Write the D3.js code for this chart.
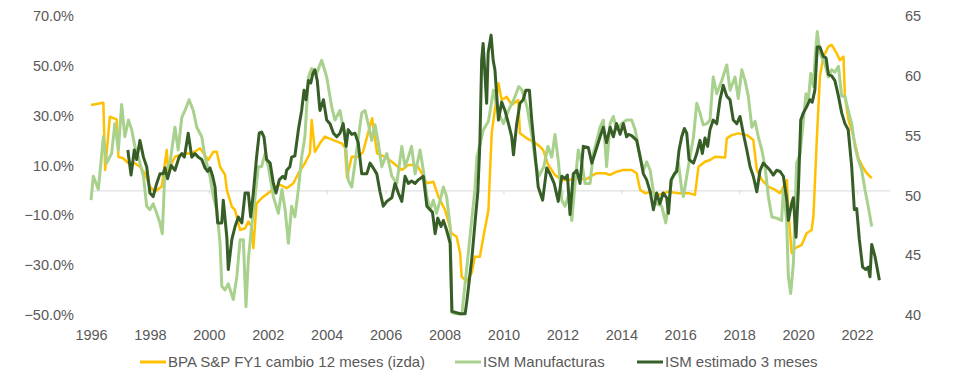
<!DOCTYPE html>
<html lang="es">
<head>
<meta charset="UTF-8">
<title>BPA S&amp;P vs ISM</title>
<script src="https://d3js.org/d3.v7.min.js"></script>
<style>
  body { margin: 0; background: #fff; }
  svg { display: block; font-family: "Liberation Sans", Arial, sans-serif; }
  .tick text { fill: #595959; font-size: 14.5px; }
</style>
</head>
<body>
<svg id="chart"></svg>
<script>
// [year, % change 12m] - left axis
const bpa = [
  [1996.00,34.3],[1996.42,35.2],[1996.48,8.2],[1996.64,29.6],[1996.87,28.5],[1996.93,13.5],
  [1997.10,12.8],[1997.27,10.9],[1997.49,10.9],[1997.66,9.5],[1997.83,6.9],[1998.00,1.5],
  [1998.17,-0.5],[1998.40,1.6],[1998.57,16.2],[1998.62,8.1],[1998.85,13.5],[1999.19,14.8],
  [1999.42,14.8],[1999.70,16.9],[1999.98,12.2],[2000.15,15.5],[2000.27,15.5],[2000.38,9.5],
  [2000.55,6.2],[2000.61,0.2],[2000.78,-6.5],[2000.89,-7.9],[2001.06,-15.9],[2001.23,-15.2],
  [2001.34,-12.5],[2001.45,-14.5],[2001.51,-23.2],[2001.62,-5.2],[2001.85,-2.5],[2002.08,-0.5],
  [2002.25,1.5],[2002.42,2.2],[2002.64,0.9],[2002.87,2.9],[2003.04,6.9],[2003.26,10.9],
  [2003.43,14.9],[2003.49,28.3],[2003.60,15.5],[2003.77,18.9],[2003.94,21.6],[2004.22,20.2],
  [2004.51,18.9],[2004.62,17.2],[2004.69,5.2],[2004.85,13.5],[2005.07,13.5],[2005.23,15.3],
  [2005.54,29.0],[2005.71,14.9],[2005.98,13.5],[2006.21,11.5],[2006.55,8.2],[2006.77,10.2],
  [2007.06,10.2],[2007.23,6.9],[2007.40,2.9],[2007.62,3.5],[2007.79,-2.5],[2008.02,-7.9],
  [2008.24,-17.2],[2008.41,-18.6],[2008.53,-25.2],[2008.58,-34.6],[2008.75,-36.6],[2008.92,-33.2],
  [2009.03,-26.6],[2009.20,-26.6],[2009.32,-18.6],[2009.49,-7.9],[2009.60,22.9],[2009.83,43.0],
  [2009.94,36.3],[2010.11,37.6],[2010.28,34.3],[2010.50,36.3],[2010.56,22.9],[2010.79,20.9],
  [2011.01,19.6],[2011.24,17.6],[2011.35,16.2],[2011.52,10.2],[2011.75,6.2],[2011.98,4.2],
  [2012.26,4.2],[2012.49,5.5],[2012.77,4.2],[2012.94,5.5],[2013.17,6.9],[2013.45,6.9],
  [2013.62,6.2],[2013.84,7.5],[2014.07,8.2],[2014.35,8.2],[2014.52,6.9],[2014.64,0.2],
  [2014.81,-1.1],[2015.03,-0.5],[2015.26,-1.8],[2015.60,-0.5],[2015.94,-1.1],[2016.28,-1.1],
  [2016.50,-1.8],[2016.62,9.5],[2016.84,11.5],[2017.01,12.2],[2017.18,13.5],[2017.52,13.2],
  [2017.58,20.9],[2017.75,22.2],[2017.97,22.9],[2018.26,22.2],[2018.48,20.2],[2018.60,8.2],
  [2018.77,4.2],[2018.99,1.5],[2019.22,0.2],[2019.39,-1.1],[2019.62,4.2],[2019.67,-7.9],
  [2019.78,-25.2],[2019.90,-23.2],[2020.12,-21.9],[2020.29,-17.2],[2020.46,-15.9],[2020.52,-10.5],
  [2020.63,18.9],[2020.74,45.6],[2020.86,53.7],[2021.03,57.7],[2021.14,58.4],[2021.31,55.0],
  [2021.42,52.3],[2021.54,53.7],[2021.59,37.6],[2021.71,28.3],[2021.88,21.6],[2022.05,12.9],
  [2022.22,8.9],[2022.33,6.9],[2022.50,4.9]
];

// [year, index] - right axis
const ismManuf = [
  [1996.00,49.6],[1996.08,51.6],[1996.25,50.5],[1996.42,54.9],[1996.53,52.7],[1996.70,53.5],
  [1996.81,56.0],[1996.93,53.8],[1997.04,57.6],[1997.15,54.9],[1997.27,56.3],[1997.38,55.5],
  [1997.49,54.1],[1997.61,53.2],[1997.78,51.6],[1997.89,49.1],[1998.00,48.8],[1998.11,49.3],
  [1998.23,48.5],[1998.34,47.7],[1998.42,46.8],[1998.51,52.1],[1998.68,52.7],[1998.85,55.7],
  [1998.96,53.8],[1999.08,56.5],[1999.19,57.1],[1999.33,58.0],[1999.47,57.1],[1999.59,55.7],
  [1999.76,54.9],[1999.87,53.2],[2000.04,51.6],[2000.15,49.9],[2000.27,48.8],[2000.38,46.0],
  [2000.44,42.4],[2000.55,42.1],[2000.66,42.6],[2000.83,41.3],[2000.95,43.2],[2001.06,46.3],
  [2001.17,46.3],[2001.26,40.7],[2001.34,44.6],[2001.45,47.4],[2001.57,49.9],[2001.68,52.4],
  [2001.79,52.4],[2001.91,53.5],[2002.02,52.4],[2002.19,49.9],[2002.36,48.5],[2002.48,50.5],
  [2002.59,48.8],[2002.70,46.0],[2002.81,49.1],[2002.92,48.2],[2003.04,50.5],[2003.15,53.2],
  [2003.26,54.9],[2003.38,59.9],[2003.49,60.6],[2003.66,60.2],[2003.83,61.3],[2004.00,59.9],
  [2004.17,57.4],[2004.28,56.3],[2004.45,57.1],[2004.62,54.9],[2004.73,51.3],[2004.85,50.7],
  [2004.96,52.7],[2005.19,56.9],[2005.30,57.1],[2005.41,56.0],[2005.53,54.6],[2005.64,55.9],
  [2005.75,54.4],[2005.87,52.4],[2006.04,53.5],[2006.21,51.6],[2006.38,51.0],[2006.55,54.1],
  [2006.66,52.4],[2006.77,53.2],[2006.88,54.1],[2007.00,51.8],[2007.17,53.8],[2007.28,52.1],
  [2007.40,49.9],[2007.51,48.8],[2007.62,49.6],[2007.73,48.5],[2007.85,49.6],[2007.96,50.7],
  [2008.07,49.9],[2008.19,47.4],[2008.25,40.2],[2008.39,40.1],[2008.59,40.1],[2008.80,45.0],
  [2009.03,50.5],[2009.10,53.2],[2009.32,55.5],[2009.49,56.2],[2009.66,58.8],[2009.83,56.9],
  [2010.00,56.0],[2010.17,57.1],[2010.35,58.0],[2010.52,59.1],[2010.63,58.8],[2010.80,57.4],
  [2010.97,54.9],[2011.09,52.7],[2011.20,51.6],[2011.37,52.4],[2011.51,54.1],[2011.64,53.2],
  [2011.75,55.1],[2011.87,52.7],[2011.98,49.6],[2012.09,49.1],[2012.20,49.9],[2012.32,47.9],
  [2012.43,51.0],[2012.54,53.8],[2012.66,52.7],[2012.77,51.0],[2012.94,51.0],[2013.05,53.5],
  [2013.17,54.6],[2013.28,55.7],[2013.39,56.3],[2013.50,52.4],[2013.62,56.0],[2013.73,56.6],
  [2013.84,55.5],[2014.01,56.0],[2014.18,56.3],[2014.35,56.3],[2014.47,55.5],[2014.64,53.2],
  [2014.75,52.1],[2014.86,52.8],[2014.98,52.1],[2015.09,50.3],[2015.20,49.3],[2015.37,49.1],
  [2015.51,47.7],[2015.60,49.3],[2015.71,51.3],[2015.82,51.8],[2015.94,52.7],[2016.05,50.5],
  [2016.11,49.9],[2016.22,51.6],[2016.33,53.2],[2016.45,54.9],[2016.56,57.7],[2016.67,56.9],
  [2016.78,55.9],[2016.90,56.0],[2017.01,56.3],[2017.12,59.9],[2017.24,58.5],[2017.41,59.6],
  [2017.58,60.9],[2017.69,58.8],[2017.86,59.9],[2017.97,58.1],[2018.09,60.5],[2018.20,59.6],
  [2018.31,58.3],[2018.43,55.7],[2018.54,56.2],[2018.65,54.9],[2018.77,53.8],[2018.88,52.4],
  [2018.99,49.9],[2019.11,48.2],[2019.27,48.1],[2019.44,47.9],[2019.50,50.5],[2019.61,48.0],
  [2019.67,43.2],[2019.75,41.8],[2019.84,44.3],[2019.95,52.7],[2020.07,53.5],[2020.18,56.3],
  [2020.27,58.5],[2020.35,58.0],[2020.43,60.2],[2020.52,59.1],[2020.58,61.6],[2020.65,63.7],
  [2020.74,61.9],[2020.91,61.0],[2021.03,59.9],[2021.14,60.5],[2021.25,60.3],[2021.37,60.8],
  [2021.48,58.3],[2021.59,58.3],[2021.70,57.1],[2021.82,56.0],[2021.93,54.1],[2022.04,53.0],
  [2022.16,52.1],[2022.27,50.5],[2022.38,49.1],[2022.50,47.4]
];

const ismEstimado = [
  [1997.25,53.8],[1997.36,51.7],[1997.47,53.8],[1997.55,53.0],[1997.66,54.6],[1997.78,53.2],
  [1997.89,52.4],[1998.00,50.2],[1998.11,49.9],[1998.23,51.0],[1998.34,51.8],[1998.45,51.8],
  [1998.51,52.3],[1998.60,51.4],[1998.72,52.5],[1998.85,52.1],[1998.99,53.2],[1999.08,53.5],
  [1999.17,53.2],[1999.30,55.2],[1999.42,53.2],[1999.53,53.5],[1999.64,53.2],[1999.76,53.0],
  [1999.87,52.3],[1999.96,52.0],[2000.04,52.3],[2000.13,51.6],[2000.21,50.7],[2000.30,47.7],
  [2000.44,47.7],[2000.49,49.6],[2000.61,46.5],[2000.66,43.8],[2000.78,46.3],[2000.89,47.4],
  [2001.00,48.2],[2001.12,47.7],[2001.23,50.2],[2001.34,50.2],[2001.42,48.2],[2001.51,50.2],
  [2001.62,53.2],[2001.71,55.2],[2001.79,55.3],[2001.87,54.9],[2001.96,53.0],[2002.08,52.7],
  [2002.19,51.0],[2002.28,50.2],[2002.39,51.3],[2002.51,51.6],[2002.59,51.4],[2002.64,52.1],
  [2002.75,52.4],[2002.81,53.2],[2002.92,53.3],[2003.04,55.5],[2003.15,57.1],[2003.23,58.8],
  [2003.30,58.0],[2003.38,59.6],[2003.46,59.4],[2003.53,60.2],[2003.60,60.5],[2003.68,59.6],
  [2003.77,57.1],[2003.89,58.0],[2004.00,56.3],[2004.11,56.0],[2004.23,55.2],[2004.34,54.9],
  [2004.45,55.2],[2004.56,56.0],[2004.66,54.1],[2004.73,55.5],[2004.85,55.1],[2004.96,55.2],
  [2005.07,54.4],[2005.19,51.8],[2005.36,51.8],[2005.47,52.7],[2005.58,52.3],[2005.70,51.8],
  [2005.81,50.3],[2005.92,49.1],[2006.04,49.5],[2006.21,49.8],[2006.32,51.0],[2006.43,50.2],
  [2006.55,49.5],[2006.66,51.6],[2006.77,51.0],[2006.88,51.2],[2007.00,51.0],[2007.11,51.3],
  [2007.28,51.6],[2007.40,49.1],[2007.51,48.8],[2007.59,48.6],[2007.68,46.8],[2007.77,48.1],
  [2007.88,47.4],[2007.96,47.9],[2008.07,47.1],[2008.19,46.0],[2008.25,40.3],[2008.53,40.1],
  [2008.70,40.1],[2008.76,41.2],[2008.93,44.8],[2009.03,47.6],[2009.13,50.3],[2009.20,54.4],
  [2009.26,61.3],[2009.31,62.7],[2009.43,57.7],[2009.48,61.9],[2009.58,63.4],[2009.65,61.3],
  [2009.71,60.5],[2009.83,56.3],[2009.94,57.8],[2010.05,57.1],[2010.17,56.0],[2010.28,54.9],
  [2010.34,53.4],[2010.45,56.0],[2010.56,57.7],[2010.67,58.0],[2010.76,58.8],[2010.88,58.8],
  [2010.96,56.3],[2011.07,53.5],[2011.18,50.7],[2011.33,49.6],[2011.47,52.3],[2011.58,51.8],
  [2011.72,51.0],[2011.86,49.5],[2011.98,51.6],[2012.09,51.4],[2012.17,51.7],[2012.26,48.4],
  [2012.37,51.8],[2012.49,52.1],[2012.60,51.0],[2012.71,54.1],[2012.88,54.0],[2013.00,52.7],
  [2013.14,53.8],[2013.28,54.9],[2013.39,55.7],[2013.50,54.4],[2013.62,55.7],[2013.73,54.9],
  [2013.84,56.0],[2013.96,55.1],[2014.07,56.0],[2014.18,54.9],[2014.24,55.1],[2014.35,55.0],
  [2014.52,54.6],[2014.64,53.2],[2014.75,51.8],[2014.86,51.3],[2014.98,50.3],[2015.09,48.8],
  [2015.20,50.2],[2015.31,49.3],[2015.42,50.2],[2015.54,49.8],[2015.60,48.5],[2015.69,51.3],
  [2015.80,51.8],[2015.88,52.0],[2015.96,53.8],[2016.05,54.9],[2016.14,55.6],[2016.22,55.2],
  [2016.30,53.0],[2016.45,52.7],[2016.56,53.5],[2016.67,54.6],[2016.75,53.5],[2016.84,54.8],
  [2016.93,54.1],[2017.01,55.5],[2017.12,56.3],[2017.24,56.0],[2017.35,58.0],[2017.46,59.2],
  [2017.58,58.3],[2017.69,58.0],[2017.80,56.3],[2017.92,56.0],[2018.03,56.6],[2018.14,55.2],
  [2018.26,53.8],[2018.37,52.4],[2018.48,51.6],[2018.60,50.3],[2018.71,52.1],[2018.82,52.7],
  [2018.94,52.4],[2019.05,52.1],[2019.16,51.7],[2019.27,52.1],[2019.39,52.0],[2019.50,51.6],
  [2019.62,49.6],[2019.67,47.9],[2019.78,49.3],[2019.84,49.8],[2019.93,46.5],[2020.01,50.5],
  [2020.09,56.3],[2020.18,56.9],[2020.29,57.4],[2020.40,58.0],[2020.48,57.8],[2020.57,58.8],
  [2020.65,62.4],[2020.74,62.4],[2020.86,61.6],[2020.95,61.5],[2021.03,60.1],[2021.14,60.0],
  [2021.25,59.6],[2021.37,58.3],[2021.48,56.9],[2021.59,56.0],[2021.70,55.5],[2021.82,52.4],
  [2021.91,48.8],[2021.99,48.9],[2022.08,46.3],[2022.19,44.0],[2022.30,43.8],[2022.38,44.0],
  [2022.44,43.2],[2022.50,45.9],[2022.61,44.9],[2022.76,42.9]
];

const yearTicks = d3.range(1996, 2023, 2);
const leftTicks = [-50, -30, -10, 10, 30, 50, 70];
const rightTicks = [40, 45, 50, 55, 60, 65];
const seriesNames = ["BPA S&P FY1 cambio 12 meses (izda)", "ISM Manufacturas", "ISM estimado 3 meses"];
const seriesColors = ["#FFC000", "#A9D18E", "#375E27"];

const width = 953, height = 385;
const svg = d3.select("#chart").attr("width", width).attr("height", height);

const plot = { left: 91, right: 890, top: 16, bottom: 315 };

const x = d3.scaleLinear().domain([1996, 2023.12]).range([plot.left, plot.right]);
const yLeft = d3.scaleLinear().domain([-50, 70]).range([plot.bottom, plot.top]);
const yRight = d3.scaleLinear().domain([40, 65]).range([plot.bottom, plot.top]);

svg.append("clipPath").attr("id", "plotClip")
  .append("rect")
  .attr("x", plot.left - 2).attr("y", plot.top - 2)
  .attr("width", plot.right - plot.left + 4).attr("height", plot.bottom - plot.top + 3);

// axis line at 0% with small ticks
const zeroAxis = svg.append("g")
  .attr("transform", `translate(0,${yLeft(0)})`)
  .call(d3.axisBottom(x).tickValues(yearTicks).tickSize(4).tickSizeOuter(0).tickFormat(""));
zeroAxis.select(".domain").attr("stroke", "#D9D9D9");
zeroAxis.selectAll(".tick line").attr("stroke", "#D9D9D9");

// year labels at the bottom
const xLabels = svg.append("g")
  .attr("transform", `translate(0,${plot.bottom + 12})`)
  .call(d3.axisBottom(x).tickValues(yearTicks).tickSize(0).tickFormat(d3.format("d")));
xLabels.select(".domain").remove();

const leftAxis = svg.append("g")
  .attr("transform", `translate(${plot.left - 14},0)`)
  .call(d3.axisLeft(yLeft).tickValues(leftTicks).tickSize(0).tickFormat(d => d3.format(".1f")(d) + "%"));
leftAxis.select(".domain").remove();

const rightAxis = svg.append("g")
  .attr("transform", `translate(${plot.right + 12},0)`)
  .call(d3.axisRight(yRight).tickValues(rightTicks).tickSize(0));
rightAxis.select(".domain").remove();

const lineLeft = d3.line().x(d => x(d[0])).y(d => yLeft(d[1]));
const lineRight = d3.line().x(d => x(d[0])).y(d => yRight(d[1]));

const lines = svg.append("g").attr("clip-path", "url(#plotClip)");
lines.append("path").datum(bpa)
  .attr("d", lineLeft).attr("fill", "none")
  .attr("stroke", seriesColors[0]).attr("stroke-width", 2.5).attr("stroke-linejoin", "round");
lines.append("path").datum(ismManuf)
  .attr("d", lineRight).attr("fill", "none")
  .attr("stroke", seriesColors[1]).attr("stroke-width", 3).attr("stroke-linejoin", "round");
lines.append("path").datum(ismEstimado)
  .attr("d", lineRight).attr("fill", "none")
  .attr("stroke", seriesColors[2]).attr("stroke-width", 3).attr("stroke-linejoin", "round");

// legend
const legendX = [140, 455, 637];
const legend = svg.append("g").attr("transform", "translate(0,362)");
seriesNames.forEach((name, i) => {
  legend.append("line")
    .attr("x1", legendX[i]).attr("x2", legendX[i] + 26)
    .attr("stroke", seriesColors[i]).attr("stroke-width", 3);
  legend.append("text")
    .attr("x", legendX[i] + 28).attr("y", 5)
    .attr("fill", "#595959").attr("font-size", "15px")
    .text(name);
});
</script>
</body>
</html>
